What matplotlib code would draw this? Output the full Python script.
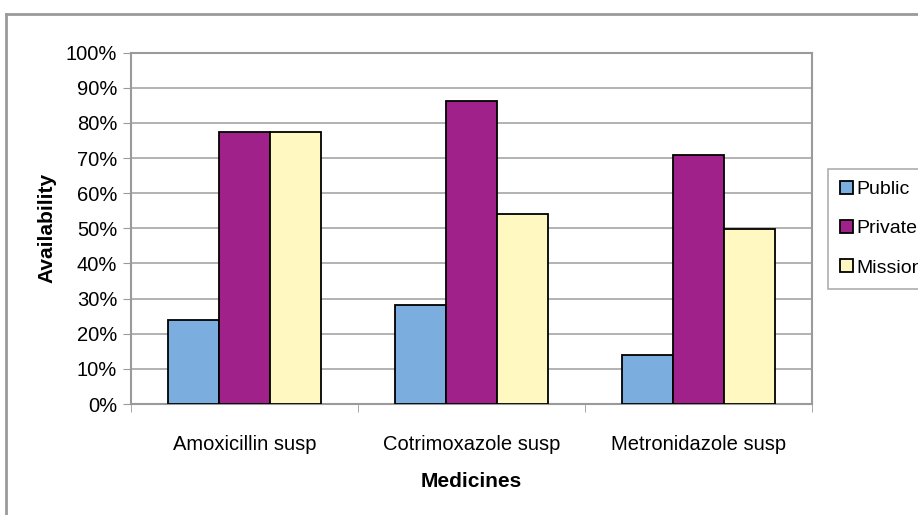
import numpy as np
from matplotlib import pyplot as plt
from matplotlib.lines import Line2D

medicines = ["Amoxicillin susp", "Cotrimoxazole susp", "Metronidazole susp"]
sectors = ["Public", "Private", "Mission"]
public = [24.0, 28.2, 14.0]
private = [77.3, 86.3, 71.0]
mission = [77.3, 54.2, 49.8]
colors = ["#7BADDE", "#A0218A", "#FFF9C1"]

plt.rcParams['font.family'] = ['Liberation Sans', 'DejaVu Sans']

fig = plt.figure(figsize=(9.18, 5.15), dpi=100)
ax = fig.add_axes([131/918, 1 - 404/515, (812 - 131)/918, (404 - 52.7)/515])

# outer chart border (only top and left visible in the crop)
fig.add_artist(Line2D([6/918, 1.0], [1 - 13.5/515, 1 - 13.5/515], color="#9a9a9a", lw=2))
fig.add_artist(Line2D([6/918, 6/918], [0, 1 - 13.5/515], color="#9a9a9a", lw=2))

x = np.arange(len(medicines))
w = 0.225
for i, (vals, name) in enumerate(zip([public, private, mission], sectors)):
    ax.bar(x + (i - 1) * w, vals, w, color=colors[i], edgecolor="black",
           linewidth=1.3, label=name, zorder=3)

ax.set_xlim(-0.5, len(medicines) - 0.5)
ax.set_ylim(0, 100)
ax.set_yticks(np.arange(0, 101, 10))
ax.set_yticklabels([f"{v}%" for v in range(0, 101, 10)], fontsize=14.5)
ax.set_xticks(x)
ax.set_xticklabels(medicines, fontsize=14.5)
ax.set_xticks(np.arange(-0.5, len(medicines)), minor=True)
ax.tick_params(axis="x", which="major", length=0, pad=22)
ax.tick_params(axis="x", which="minor", length=6, color="#9a9a9a")
ax.tick_params(axis="y", length=6, color="#9a9a9a", pad=4)
ax.grid(axis="y", color="#a6a6a6", lw=1.2, zorder=0)
for s in ax.spines.values():
    s.set_color("#9a9a9a")
    s.set_linewidth(1.5)

ax.set_ylabel("Availability", fontsize=15, fontweight="bold", labelpad=7)
ax.set_xlabel("Medicines", fontsize=15, fontweight="bold", labelpad=13)

leg = fig.legend(loc="upper left", bbox_to_anchor=(828/918, 1 - 169/515),
                 borderaxespad=0, fontsize=14, frameon=True, fancybox=False,
                 handlelength=0.65, handleheight=0.65, handletextpad=0.2,
                 labelspacing=1.12, borderpad=0.62)
leg.get_frame().set_edgecolor("#9a9a9a")
leg.get_frame().set_linewidth(1.2)

fig.savefig("out.png", dpi=100)
